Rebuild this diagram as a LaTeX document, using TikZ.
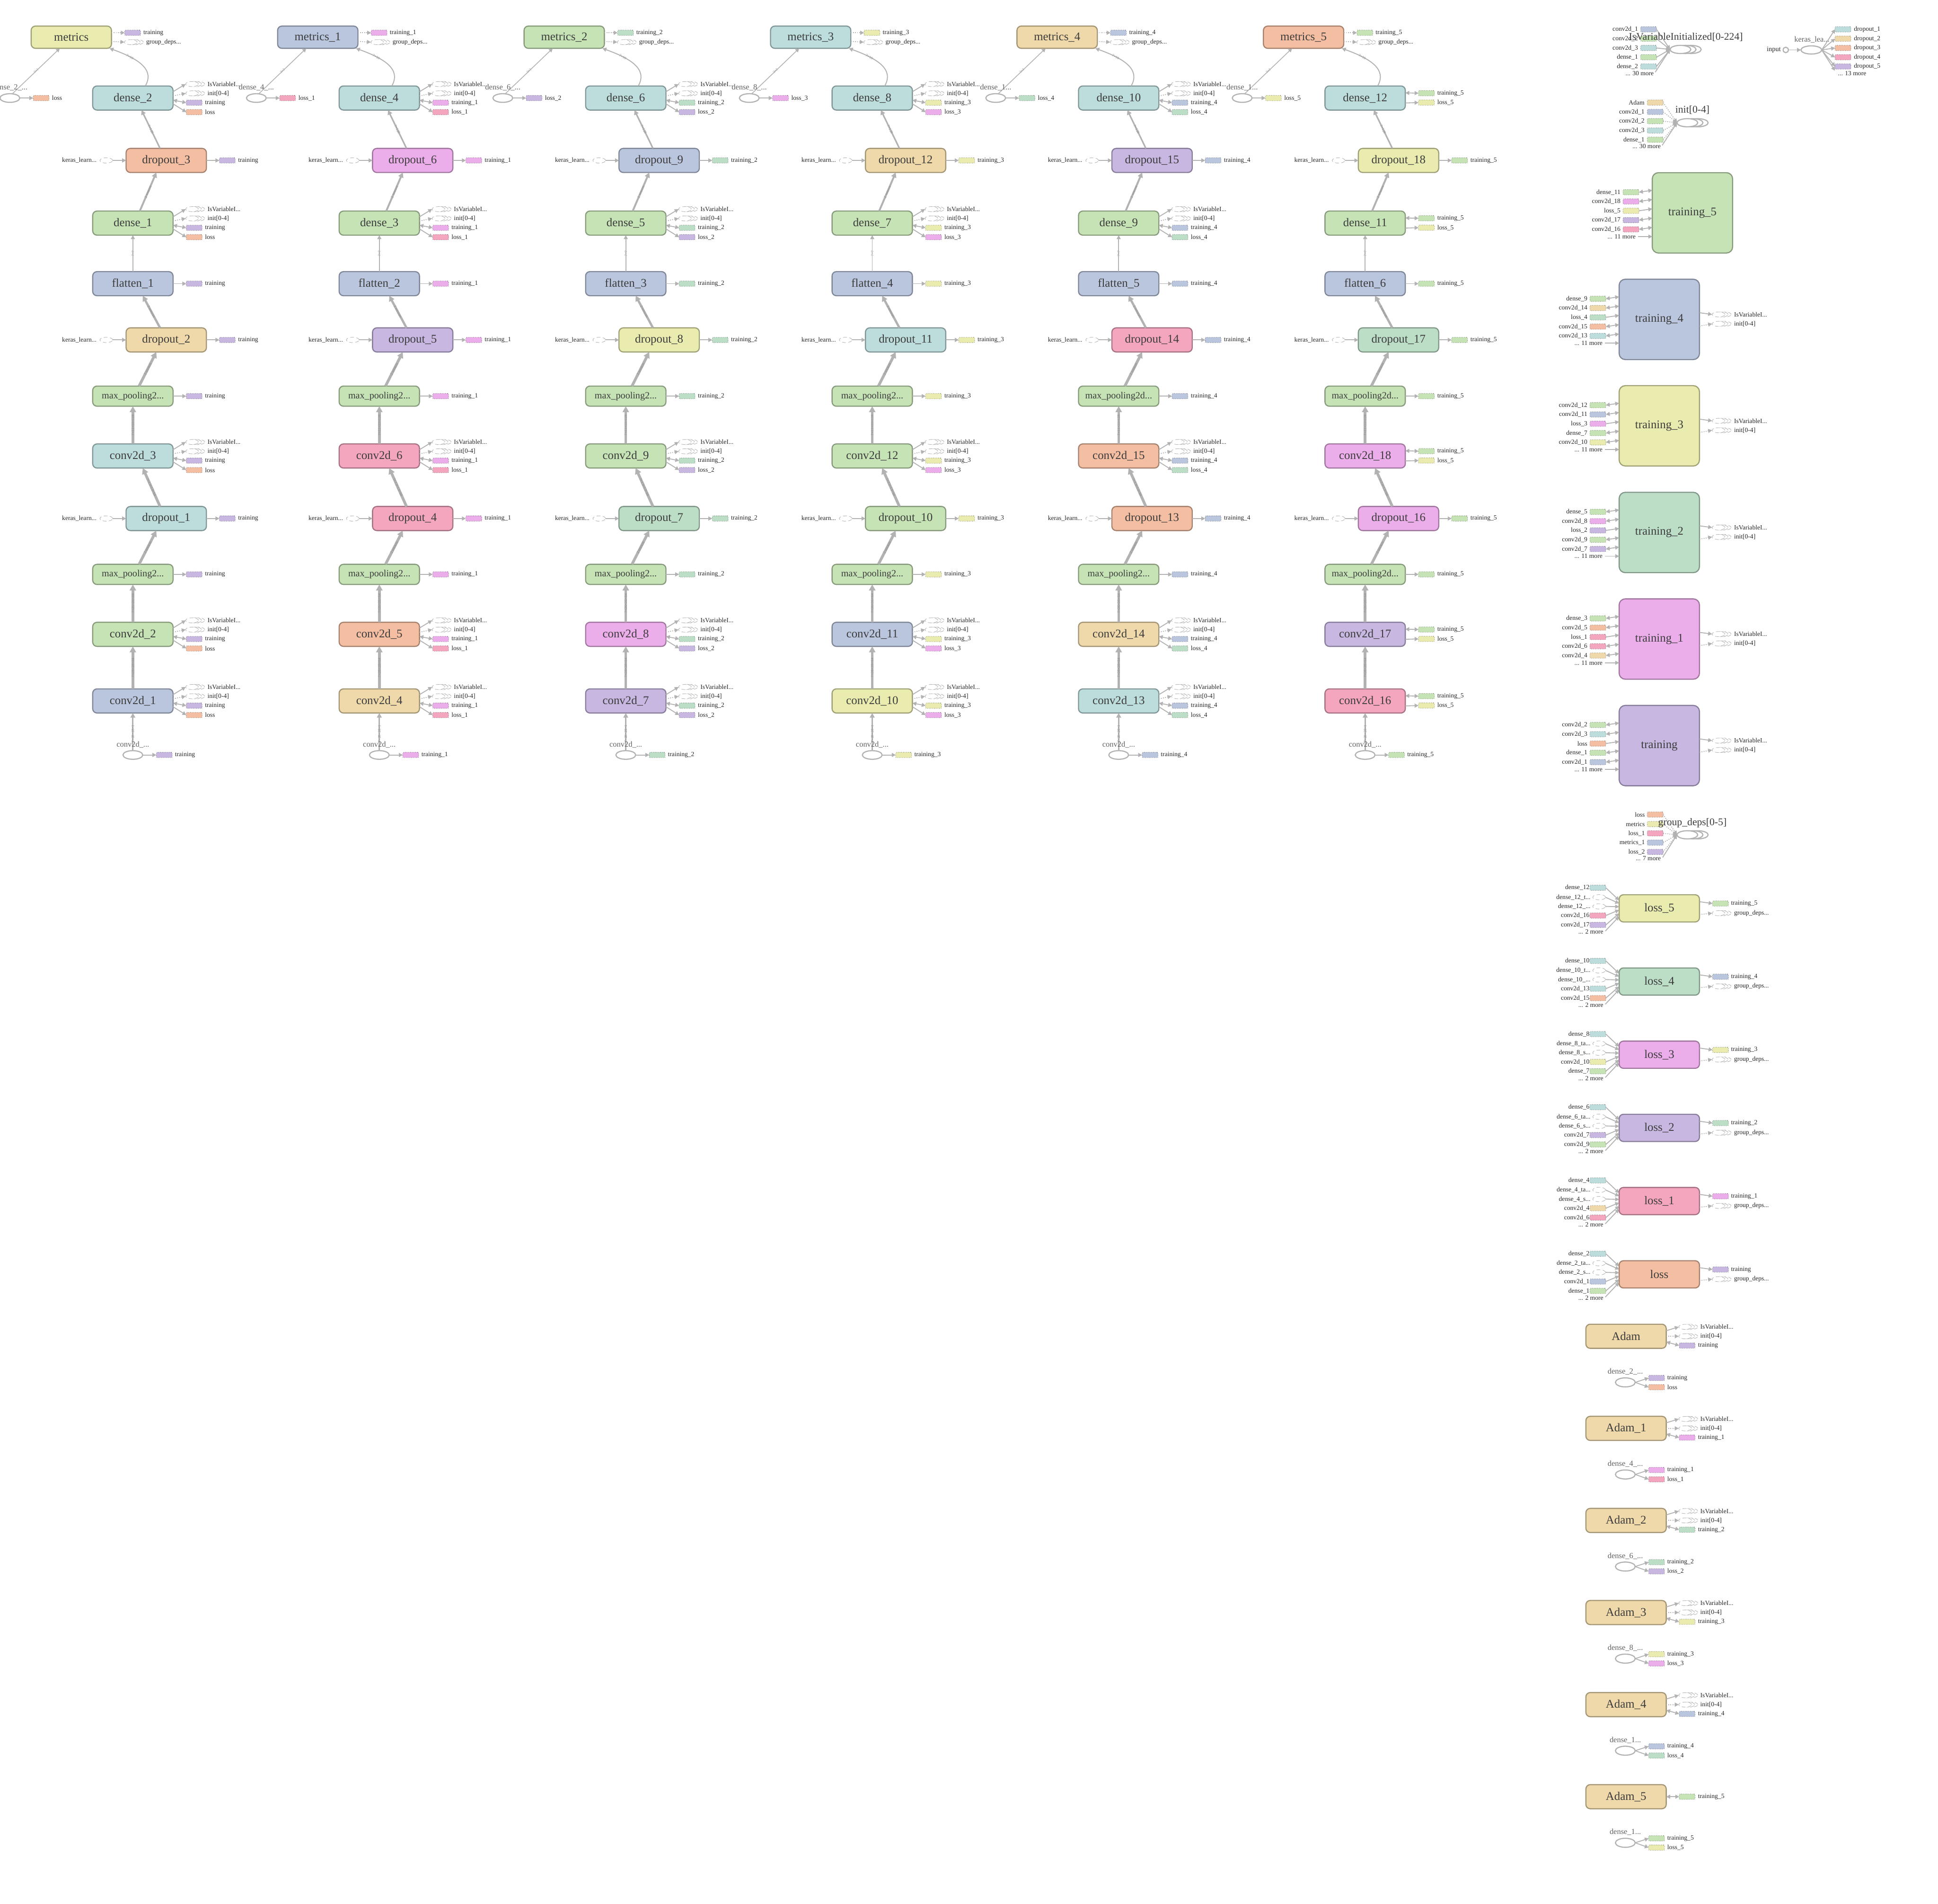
\documentclass[tikz,border=0pt]{standalone}
\usepackage{fontspec}
\setmainfont{Liberation Serif}
\usetikzlibrary{arrows.meta,shapes.geometric,calc}
\definecolor{cyel}{HTML}{EAEBAE}
\definecolor{cteal}{HTML}{BDDCDC}
\definecolor{csal}{HTML}{F4BEA2}
\definecolor{cgrn}{HTML}{C6E3B6}
\definecolor{cblu}{HTML}{BAC5DE}
\definecolor{ctan}{HTML}{EFD9AA}
\definecolor{cmag}{HTML}{EBAEEA}
\definecolor{cpnk}{HTML}{F4A6BF}
\definecolor{cpur}{HTML}{C7B7E1}
\definecolor{cmnt}{HTML}{BCDEC7}
\definecolor{edgec}{HTML}{B2B2B2}
\definecolor{txtc}{HTML}{3C3C3C}
\tikzset{
  every node/.style={inner sep=0pt, outer sep=0pt},
  box/.style={draw=#1!68!black, fill=#1, rounded corners=3.5pt, line width=0.9pt, minimum width=65pt, minimum height=19.5pt, text=txtc, font=\fontsize{9.5}{10}\selectfont},
  mpbox/.style={box=cgrn, minimum height=16.3pt, font=\fontsize{7.7}{8}\selectfont},
  chip/.style={draw=#1!55!black, fill=#1, densely dotted, rounded corners=0.8pt, minimum width=12.8pt, minimum height=4.3pt, line width=0.4pt},
  lbl/.style={font=\fontsize{5.2}{6}\selectfont, text=black!85},
  ellbl/.style={font=\fontsize{6.3}{7}\selectfont, text=black!62},
  ttl/.style={font=\fontsize{8.3}{9}\selectfont, text=txtc},
  elab/.style={font=\fontsize{3}{3}\selectfont, text=black!45, sloped},
  solell/.style={ellipse, draw=edgec, line width=0.9pt, fill=white, minimum width=16pt, minimum height=7pt},
  dell/.style={ellipse, draw=black!30, densely dashed, line width=0.35pt, fill=white, minimum width=10.3pt, minimum height=4.3pt},
  smallser/.style={dell, minimum width=10.4pt, minimum height=4.1pt},
  bigser/.style={ellipse, draw=edgec, line width=0.9pt, fill=white, minimum width=16.8pt, minimum height=6.6pt},
  ed/.style={draw=edgec, line width=0.7pt, -{Triangle[length=2.4pt 1.1, width=2.4pt 1.2]}},
  edd/.style={ed, densely dotted},
  edb/.style={draw=edgec, line width=0.7pt, {Triangle[length=2.4pt 1.1, width=2.4pt 1.2]}-{Triangle[length=2.4pt 1.1, width=2.4pt 1.2]}},
  lwA/.style={line width=2.2pt},
}
% series icon (stacked ellipses), #2 = centre of whole icon
\newcommand{\sericon}[4]{%
  \node[#4] at ({#2+2.4},{#3}) {};
  \node[#4] at ({#2-0.1},{#3}) {};
  \node[#4] (#1) at ({#2-2.6},{#3}) {};}
\newcommand{\bigsericon}[3]{%
  \node[bigser] at ({#2+8.4},{#3}) {};
  \node[bigser] at ({#2+4.2},{#3}) {};
  \node[bigser] (#1) at ({#2},{#3}) {};}
\newcommand{\fourout}[7]{%
  \sericon{#1iv}{#2+50.5}{#3-11.3}{smallser}
  \node[lbl,anchor=west] at ({#2+60.4},{#3-11.3}) {IsVariableI...};
  \sericon{#1in}{#2+50.5}{#3-3.8}{smallser}
  \node[lbl,anchor=west] at ({#2+60.4},{#3-3.8}) {init[0-4]};
  \node[chip=#4] (#1tr) at ({#2+49.6},{#3+3.8}) {};
  \node[lbl,anchor=west] at ({#2+58.4},{#3+3.8}) {#5};
  \node[chip=#6] (#1ls) at ({#2+49.6},{#3+11.4}) {};
  \node[lbl,anchor=west] at ({#2+58.4},{#3+11.4}) {#7};
  \draw[ed] ($(#1.east)+(0,-5.1)$) -- (#1iv.west);
  \draw[edd] ($(#1.east)+(0,-1.7)$) -- (#1in.west);
  \draw[edb] ($(#1.east)+(0,1.7)$) -- (#1tr.west);
  \draw[ed] ($(#1.east)+(0,4.7)$) -- (#1ls.west);}
\newcommand{\twoout}[7]{%
  \node[chip=#4] (#1tr) at ({#2+49.6},{#3-3.9}) {};
  \node[lbl,anchor=west] at ({#2+58.4},{#3-3.9}) {#5};
  \node[chip=#6] (#1ls) at ({#2+49.6},{#3+3.7}) {};
  \node[lbl,anchor=west] at ({#2+58.4},{#3+3.7}) {#7};
  \draw[edb] ($(#1.east)+(0,-4.2)$) -- (#1tr.west);
  \draw[ed] ($(#1.east)+(0,4)$) -- (#1ls.west);}
\newcommand{\oneout}[5]{%
  \node[chip=#4] (#1tr) at ({#2+49.6},{#3}) {};
  \node[lbl,anchor=west] at ({#2+58.4},{#3}) {#5};
  \draw[ed] (#1.east) -- (#1tr.west);}
\newcommand{\dropo}[5]{%
  \node[dell] (#1k) at ({#2-48.5},{#3}) {};
  \node[lbl,anchor=east] at ({#2-56.4},{#3}) {keras\_learn...};
  \draw[ed] (#1k.east) -- (#1.west);
  \node[chip=#4] (#1tr) at ({#2+49.4},{#3}) {};
  \node[lbl,anchor=west] at ({#2+58.2},{#3}) {#5};
  \draw[ed] (#1.east) -- (#1tr.west);}
\newcommand{\drawcol}[1]{%
  \pgfmathsetmacro{\cXD}{\cX+27}%
  \pgfmathsetmacro{\cXM}{\cX-49.8}%
  \pgfmathsetmacro{\cXE}{\cX-99.5}%
  \node[box=\cMetc, minimum height=18pt] (m#1) at (\cXM,30.1) {\cMet};
  \node[box=\cDAc] (dA#1) at (\cX,79.3) {\cDA};
  \node[box=\cDOAc] (doA#1) at (\cXD,129.8) {\cDOA};
  \node[box=\cDBc] (dB#1) at (\cX,180.5) {\cDB};
  \node[box=cblu] (fl#1) at (\cX,229.5) {flatten\_#1};
  \node[box=\cDOBc] (doB#1) at (\cXD,275) {\cDOB};
  \node[mpbox] (mpA#1) at (\cX,320.5) {\cMPA};
  \node[box=\cCAc] (cvA#1) at (\cX,368.9) {\cCA};
  \node[box=\cDOCc] (doC#1) at (\cXD,419.5) {\cDOC};
  \node[mpbox] (mpB#1) at (\cX,464.7) {\cMPB};
  \node[box=\cCBc] (cvB#1) at (\cX,513.2) {\cCB};
  \node[box=\cCCc] (cvC#1) at (\cX,567.1) {\cCC};
  % input ellipse
  \node[solell] (in#1) at (\cX,610.8) {};
  \node[chip=\cTRc] (in#1tr) at ({\cX+25.4},610.8) {};
  \node[lbl,anchor=west] at ({\cX+34.1},610.8) {\cTR};
  \draw[ed] (in#1.east) -- (in#1tr.west);
  % top-left ellipse
  \node[solell] (e#1) at (\cXE,79.3) {};
  \node[chip=\cLSc] (e#1ls) at ({\cXE+25.3},79.3) {};
  \node[lbl,anchor=west] at ({\cXE+34.1},79.3) {\cLS};
  \draw[ed] (e#1.east) -- (e#1ls.west);
  % metrics outputs
  \node[chip=\cTRc] (m#1tr) at ({\cXM+49.6},26.5) {};
  \node[lbl,anchor=west] at ({\cXM+58.3},26.5) {\cTR};
  \sericon{m#1gd}{\cXM+50.7}{34.1}{smallser}
  \node[lbl,anchor=west] at ({\cXM+60.6},34.1) {group\_deps...};
  \draw[edd] ($(m#1.east)+(0,-3.6)$) -- (m#1tr.west);
  \draw[edd] ($(m#1.east)+(0,3.4)$) -- (m#1gd.west);
  % side outputs
  \ifnum#1<6
    \fourout{dA#1}{\cX}{79.3}{\cTRc}{\cTR}{\cLSc}{\cLS}
    \fourout{dB#1}{\cX}{180.5}{\cTRc}{\cTR}{\cLSc}{\cLS}
    \fourout{cvA#1}{\cX}{368.9}{\cTRc}{\cTR}{\cLSc}{\cLS}
    \fourout{cvB#1}{\cX}{513.2}{\cTRc}{\cTR}{\cLSc}{\cLS}
    \fourout{cvC#1}{\cX}{567.1}{\cTRc}{\cTR}{\cLSc}{\cLS}
  \else
    \twoout{dA#1}{\cX}{79.3}{\cTRc}{\cTR}{\cLSc}{\cLS}
    \twoout{dB#1}{\cX}{180.5}{\cTRc}{\cTR}{\cLSc}{\cLS}
    \twoout{cvA#1}{\cX}{368.9}{\cTRc}{\cTR}{\cLSc}{\cLS}
    \twoout{cvB#1}{\cX}{513.2}{\cTRc}{\cTR}{\cLSc}{\cLS}
    \twoout{cvC#1}{\cX}{567.1}{\cTRc}{\cTR}{\cLSc}{\cLS}
  \fi
  \dropo{doA#1}{\cXD}{129.8}{\cTRc}{\cTR}
  \dropo{doB#1}{\cXD}{275}{\cTRc}{\cTR}
  \dropo{doC#1}{\cXD}{419.5}{\cTRc}{\cTR}
  \oneout{fl#1}{\cX}{229.5}{\cTRc}{\cTR}
  \oneout{mpA#1}{\cX}{320.5}{\cTRc}{\cTR}
  \oneout{mpB#1}{\cX}{464.7}{\cTRc}{\cTR}
  % chain edges
  \draw[ed, line width=1.2pt] (in#1.north) -- (cvC#1.south) node[elab,pos=0.45]{?×28×28×1};
  \draw[ed, lwA] (cvC#1.north) -- (cvB#1.south) node[elab,midway]{?×28×28×64};
  \draw[ed, lwA] (cvB#1.north) -- (mpB#1.south) node[elab,midway]{?×26×26×64};
  \draw[ed, lwA] ($(mpB#1.north)+(5,0)$) -- ($(doC#1.south)+(-8,0)$) node[elab,midway]{2 tensors};
  \draw[ed, lwA] ($(doC#1.north)+(-5,0)$) -- ($(cvA#1.south)+(8,0)$) node[elab,midway]{?×13×13×64};
  \draw[ed, lwA] (cvA#1.north) -- (mpA#1.south) node[elab,midway]{?×11×11×128};
  \draw[ed, lwA] ($(mpA#1.north)+(5,0)$) -- ($(doB#1.south)+(-8,0)$) node[elab,midway]{2 tensors};
  \draw[ed, line width=1.8pt] ($(doB#1.north)+(-5,0)$) -- ($(fl#1.south)+(8,0)$) node[elab,midway]{2 tensors};
  \draw[ed, line width=0.75pt] (fl#1.north) -- (dB#1.south) node[elab,midway]{?×?};
  \draw[ed, line width=1.5pt] ($(dB#1.north)+(5.6,0)$) -- ($(doA#1.south)+(-8,0)$) node[elab,midway]{2 tensors};
  \draw[ed, line width=1.2pt] ($(doA#1.north)+(-5,0)$) -- ($(dA#1.south)+(7,0)$) node[elab,midway]{?×128};
  \draw[ed, line width=0.75pt] ($(dA#1.north)+(10.1,0)$) .. controls +(8,-14) and +(22,8) .. ($(m#1.south east)+(-1.6,0)$) node[elab,pos=0.72]{?×10};
  \draw[ed, line width=0.6pt] (e#1.60) -- ($(m#1.south)+(-9.3,0)$) node[elab,midway]{?×?};
  % ellipse labels
  \node[ellbl] at (\cXE,70.9) {\cEL};
  \node[ellbl] at (\cX,602.6) {conv2d\_...};
}
% right panel helpers
\newcommand{\trbox}[5]{\node[box=#4, minimum height=65pt, rounded corners=5pt] (#1) at (#2,{#3+32.5}) {#5};}
\newcommand{\trin}[7]{%
  \node[chip=#6] (#1i#4) at ({#2-49.7},{#3+15.8+7.52*#4}) {};
  \node[lbl,anchor=east] at ({#2-58.2},{#3+15.8+7.52*#4}) {#5};
  \draw[#7] (#1i#4.east) -- ($(#1.west|-#1i#4)+(0,-1.6)$);}
\newcommand{\trmore}[3]{%
  \node[lbl,anchor=east] (#1m) at ({#2-46},{#3+51.7}) {... 11 more};
  \draw[ed] ($(#1m.east)+(2,0)$) -- (#1.west|-#1m);}
\newcommand{\trout}[3]{%
  \sericon{#1iv}{#2+50.5}{#3+28.5}{smallser}
  \node[lbl,anchor=west] at ({#2+60.5},{#3+28.5}) {IsVariableI...};
  \sericon{#1in}{#2+50.5}{#3+36.1}{smallser}
  \node[lbl,anchor=west] at ({#2+60.5},{#3+36.1}) {init[0-4]};
  \draw[ed] ($(#1.east|-#1iv)+(0,-1.4)$) -- (#1iv.west);
  \draw[edd] ($(#1.east|-#1in)+(0,1.8)$) -- (#1in.west);}
\newcommand{\lossnode}[4]{\node[box=#3, minimum height=22pt] (#1) at (1342.5,#2) {#4};}
\newcommand{\lchip}[7]{%
  \node[chip=#5] (#1i#3) at (1292.8,{#2+#6}) {};
  \node[lbl,anchor=east] at (1286,{#2+#6}) {#4};
  \draw[ed] (#1i#3.east) -- ($(#1.west)+(0,#7)$);}
\newcommand{\lell}[6]{%
  \node[dell] (#1i#3) at (1293.8,{#2+#5}) {};
  \node[lbl,anchor=east] at (1286.8,{#2+#5}) {#4};
  \draw[ed] (#1i#3.east) -- ($(#1.west)+(0,#6)$);}
\newcommand{\lmore}[2]{%
  \node[lbl,anchor=east] (#1m) at (1297.2,{#2+19}) {... 2 more};
  \draw[ed] ($(#1m.east)+(1.6,-0.6)$) -- ($(#1.west)+(0,6.5)$);}
\newcommand{\lout}[4]{%
  \node[chip=#3] (#1tr) at (1392,{#2-3.9}) {};
  \node[lbl,anchor=west] at (1400.5,{#2-3.9}) {#4};
  \sericon{#1gd}{1393}{#2+3.9}{smallser}
  \node[lbl,anchor=west] at (1403,{#2+3.9}) {group\_deps...};
  \draw[ed] ($(#1.east)+(0,-5.4)$) -- (#1tr.west);
  \draw[edd] ($(#1.east)+(0,5)$) -- (#1gd.west);}
\newcommand{\adam}[5]{%
  \node[box=ctan] (#1) at (1315.6,#2) {#3};
  \sericon{#1iv}{1366}{#2-7.6}{smallser}
  \node[lbl,anchor=west] at (1375.7,{#2-7.6}) {IsVariableI...};
  \sericon{#1in}{1366}{#2}{smallser}
  \node[lbl,anchor=west] at (1375.7,{#2}) {init[0-4]};
  \node[chip=#4] (#1tr) at (1365,{#2+7.5}) {};
  \node[lbl,anchor=west] at (1373.8,{#2+7.5}) {#5};
  \draw[ed] ($(#1.east)+(0,-4.5)$) -- (#1iv.west);
  \draw[edd] (#1.east) -- (#1in.west);
  \draw[edb] ($(#1.east)+(0,4.5)$) -- (#1tr.west);}
\newcommand{\adamell}[7]{%
  \node[solell, minimum height=7.3pt] (#1) at (1315,#2) {};
  \node[ellbl] at (1315,{#2-8.6}) {#3};
  \node[chip=#4] (#1tr) at (1340.3,{#2-3.6}) {};
  \node[lbl,anchor=west] at (1349,{#2-3.6}) {#5};
  \node[chip=#6] (#1ls) at (1340.3,{#2+3.9}) {};
  \node[lbl,anchor=west] at (1349,{#2+3.9}) {#7};
  \draw[ed] (#1.east) -- (#1tr.west);
  \draw[ed] (#1.east) -- (#1ls.west);}
\begin{document}
\begin{tikzpicture}[x=1pt,y=-1pt]
\useasboundingbox (0,0) rectangle (1568,1540.3);
\fill[white] (0,0) rectangle (1568,1540.3);
% ---------------- column 1
\def\cX{107.5}\def\cMet{metrics}\def\cMetc{cyel}
\def\cDA{dense\_2}\def\cDAc{cteal}\def\cDOA{dropout\_3}\def\cDOAc{csal}
\def\cDB{dense\_1}\def\cDBc{cgrn}\def\cDOB{dropout\_2}\def\cDOBc{ctan}
\def\cMPA{max\_pooling2...}\def\cCA{conv2d\_3}\def\cCAc{cteal}
\def\cDOC{dropout\_1}\def\cDOCc{cteal}\def\cMPB{max\_pooling2...}
\def\cCB{conv2d\_2}\def\cCBc{cgrn}\def\cCC{conv2d\_1}\def\cCCc{cblu}
\def\cTR{training}\def\cTRc{cpur}\def\cLS{loss}\def\cLSc{csal}\def\cEL{dense\_2\_...}
\drawcol{1}
% ---------------- column 2
\def\cX{306.9}\def\cMet{metrics\_1}\def\cMetc{cblu}
\def\cDA{dense\_4}\def\cDAc{cteal}\def\cDOA{dropout\_6}\def\cDOAc{cmag}
\def\cDB{dense\_3}\def\cDBc{cgrn}\def\cDOB{dropout\_5}\def\cDOBc{cpur}
\def\cMPA{max\_pooling2...}\def\cCA{conv2d\_6}\def\cCAc{cpnk}
\def\cDOC{dropout\_4}\def\cDOCc{cpnk}\def\cMPB{max\_pooling2...}
\def\cCB{conv2d\_5}\def\cCBc{csal}\def\cCC{conv2d\_4}\def\cCCc{ctan}
\def\cTR{training\_1}\def\cTRc{cmag}\def\cLS{loss\_1}\def\cLSc{cpnk}\def\cEL{dense\_4\_...}
\drawcol{2}
% ---------------- column 3
\def\cX{506.3}\def\cMet{metrics\_2}\def\cMetc{cgrn}
\def\cDA{dense\_6}\def\cDAc{cteal}\def\cDOA{dropout\_9}\def\cDOAc{cblu}
\def\cDB{dense\_5}\def\cDBc{cgrn}\def\cDOB{dropout\_8}\def\cDOBc{cyel}
\def\cMPA{max\_pooling2...}\def\cCA{conv2d\_9}\def\cCAc{cgrn}
\def\cDOC{dropout\_7}\def\cDOCc{cmnt}\def\cMPB{max\_pooling2...}
\def\cCB{conv2d\_8}\def\cCBc{cmag}\def\cCC{conv2d\_7}\def\cCCc{cpur}
\def\cTR{training\_2}\def\cTRc{cmnt}\def\cLS{loss\_2}\def\cLSc{cpur}\def\cEL{dense\_6\_...}
\drawcol{3}
% ---------------- column 4
\def\cX{705.7}\def\cMet{metrics\_3}\def\cMetc{cteal}
\def\cDA{dense\_8}\def\cDAc{cteal}\def\cDOA{dropout\_12}\def\cDOAc{ctan}
\def\cDB{dense\_7}\def\cDBc{cgrn}\def\cDOB{dropout\_11}\def\cDOBc{cteal}
\def\cMPA{max\_pooling2...}\def\cCA{conv2d\_12}\def\cCAc{cgrn}
\def\cDOC{dropout\_10}\def\cDOCc{cgrn}\def\cMPB{max\_pooling2...}
\def\cCB{conv2d\_11}\def\cCBc{cblu}\def\cCC{conv2d\_10}\def\cCCc{cyel}
\def\cTR{training\_3}\def\cTRc{cyel}\def\cLS{loss\_3}\def\cLSc{cmag}\def\cEL{dense\_8\_...}
\drawcol{4}
% ---------------- column 5
\def\cX{905.1}\def\cMet{metrics\_4}\def\cMetc{ctan}
\def\cDA{dense\_10}\def\cDAc{cteal}\def\cDOA{dropout\_15}\def\cDOAc{cpur}
\def\cDB{dense\_9}\def\cDBc{cgrn}\def\cDOB{dropout\_14}\def\cDOBc{cpnk}
\def\cMPA{max\_pooling2d...}\def\cCA{conv2d\_15}\def\cCAc{csal}
\def\cDOC{dropout\_13}\def\cDOCc{csal}\def\cMPB{max\_pooling2...}
\def\cCB{conv2d\_14}\def\cCBc{ctan}\def\cCC{conv2d\_13}\def\cCCc{cteal}
\def\cTR{training\_4}\def\cTRc{cblu}\def\cLS{loss\_4}\def\cLSc{cmnt}\def\cEL{dense\_1...}
\drawcol{5}
% ---------------- column 6
\def\cX{1104.5}\def\cMet{metrics\_5}\def\cMetc{csal}
\def\cDA{dense\_12}\def\cDAc{cteal}\def\cDOA{dropout\_18}\def\cDOAc{cyel}
\def\cDB{dense\_11}\def\cDBc{cgrn}\def\cDOB{dropout\_17}\def\cDOBc{cmnt}
\def\cMPA{max\_pooling2d...}\def\cCA{conv2d\_18}\def\cCAc{cmag}
\def\cDOC{dropout\_16}\def\cDOCc{cmag}\def\cMPB{max\_pooling2d...}
\def\cCB{conv2d\_17}\def\cCBc{cpur}\def\cCC{conv2d\_16}\def\cCCc{cpnk}
\def\cTR{training\_5}\def\cTRc{cgrn}\def\cLS{loss\_5}\def\cLSc{cyel}\def\cEL{dense\_1...}
\drawcol{6}
% ---------------- IsVariableInitialized group
\bigsericon{isv}{1359.6}{40}
\node[chip=cblu] (isv1) at (1333.8,23.7) {}; \node[lbl,anchor=east] at (1325.2,23.7) {conv2d\_1};
\node[chip=cgrn] (isv2) at (1333.8,31.3) {}; \node[lbl,anchor=east] at (1325.2,31.3) {conv2d\_2};
\node[chip=cteal] (isv3) at (1333.8,38.8) {}; \node[lbl,anchor=east] at (1325.2,38.8) {conv2d\_3};
\node[chip=cgrn] (isv4) at (1333.8,46.3) {}; \node[lbl,anchor=east] at (1325.2,46.3) {dense\_1};
\node[chip=cteal] (isv5) at (1333.8,53.8) {}; \node[lbl,anchor=east] at (1325.2,53.8) {dense\_2};
\node[lbl,anchor=east] (isvm) at (1338,59.2) {... 30 more};
\foreach \i in {1,...,5} {\draw[ed] (isv\i.east) -- (isv.west);}
\draw[ed] ($(isvm.east)+(1.2,-0.8)$) -- (isv.west);
\node[ttl] at (1364,30) {IsVariableInitialized[0-224]};
% ---------------- keras learning phase group
\node[solell, minimum width=4.2pt, minimum height=4.4pt] (inp) at (1444.8,40.4) {};
\node[lbl,anchor=east,font=\fontsize{5.5}{6}\selectfont] at (1440.8,40.4) {input};
\node[solell, minimum width=16.8pt, minimum height=6.6pt] (ker) at (1465.5,40.4) {};
\node[ellbl] at (1466,32) {keras\_lea...};
\draw[ed] (inp.east) -- (ker.west);
\node[chip=cteal] (kd1) at (1491.1,23.7) {}; \node[lbl,anchor=west] at (1500,23.7) {dropout\_1};
\node[chip=ctan] (kd2) at (1491.1,31.3) {}; \node[lbl,anchor=west] at (1500,31.3) {dropout\_2};
\node[chip=csal] (kd3) at (1491.1,38.8) {}; \node[lbl,anchor=west] at (1500,38.8) {dropout\_3};
\node[chip=cpnk] (kd4) at (1491.1,46.3) {}; \node[lbl,anchor=west] at (1500,46.3) {dropout\_4};
\node[chip=cpur] (kd5) at (1491.1,53.8) {}; \node[lbl,anchor=west] at (1500,53.8) {dropout\_5};
\node[lbl,anchor=west] (kdm) at (1487.1,59.2) {... 13 more};
\foreach \i in {1,...,5} {\draw[ed] (ker.east) -- (kd\i.west);}
\draw[ed] (ker.east) -- ($(kdm.west)+(-2.5,-2)$);
% ---------------- init group
\bigsericon{ini}{1365.2}{99.3}
\node[chip=ctan] (ini1) at (1339.2,83) {}; \node[lbl,anchor=east] at (1330.5,83) {Adam};
\node[chip=cblu] (ini2) at (1339.2,90.5) {}; \node[lbl,anchor=east] at (1330.5,90.5) {conv2d\_1};
\node[chip=cgrn] (ini3) at (1339.2,98) {}; \node[lbl,anchor=east] at (1330.5,98) {conv2d\_2};
\node[chip=cteal] (ini4) at (1339.2,105.6) {}; \node[lbl,anchor=east] at (1330.5,105.6) {conv2d\_3};
\node[chip=cgrn] (ini5) at (1339.2,113) {}; \node[lbl,anchor=east] at (1330.5,113) {dense\_1};
\node[lbl,anchor=east] (inim) at (1343.6,118.4) {... 30 more};
\foreach \i in {1,...,5} {\draw[edd] (ini\i.east) -- (ini.west);}
\draw[ed] ($(inim.east)+(1.2,-0.8)$) -- (ini.west);
\node[ttl] at (1369.3,89.1) {init[0-4]};
% ---------------- training boxes
\trbox{t5}{1369.3}{139.7}{cgrn}{training\_5}
\trin{t5}{1369.3}{139.7}{0}{dense\_11}{cgrn}{edb}
\trin{t5}{1369.3}{139.7}{1}{conv2d\_18}{cmag}{edb}
\trin{t5}{1369.3}{139.7}{2}{loss\_5}{cyel}{ed}
\trin{t5}{1369.3}{139.7}{3}{conv2d\_17}{cpur}{edb}
\trin{t5}{1369.3}{139.7}{4}{conv2d\_16}{cpnk}{edb}
\trmore{t5}{1369.3}{139.7}
\trbox{t4}{1342.5}{225.9}{cblu}{training\_4}
\trin{t4}{1342.5}{225.9}{0}{dense\_9}{cgrn}{edb}
\trin{t4}{1342.5}{225.9}{1}{conv2d\_14}{ctan}{edb}
\trin{t4}{1342.5}{225.9}{2}{loss\_4}{cmnt}{ed}
\trin{t4}{1342.5}{225.9}{3}{conv2d\_15}{csal}{edb}
\trin{t4}{1342.5}{225.9}{4}{conv2d\_13}{cteal}{edb}
\trmore{t4}{1342.5}{225.9}
\trout{t4}{1342.5}{225.9}
\trbox{t3}{1342.5}{312}{cyel}{training\_3}
\trin{t3}{1342.5}{312}{0}{conv2d\_12}{cgrn}{edb}
\trin{t3}{1342.5}{312}{1}{conv2d\_11}{cblu}{edb}
\trin{t3}{1342.5}{312}{2}{loss\_3}{cmag}{ed}
\trin{t3}{1342.5}{312}{3}{dense\_7}{cgrn}{edb}
\trin{t3}{1342.5}{312}{4}{conv2d\_10}{cyel}{edb}
\trmore{t3}{1342.5}{312}
\trout{t3}{1342.5}{312}
\trbox{t2}{1342.5}{398.3}{cmnt}{training\_2}
\trin{t2}{1342.5}{398.3}{0}{dense\_5}{cgrn}{edb}
\trin{t2}{1342.5}{398.3}{1}{conv2d\_8}{cmag}{edb}
\trin{t2}{1342.5}{398.3}{2}{loss\_2}{cpur}{ed}
\trin{t2}{1342.5}{398.3}{3}{conv2d\_9}{cgrn}{edb}
\trin{t2}{1342.5}{398.3}{4}{conv2d\_7}{cpur}{edb}
\trmore{t2}{1342.5}{398.3}
\trout{t2}{1342.5}{398.3}
\trbox{t1}{1342.5}{484.5}{cmag}{training\_1}
\trin{t1}{1342.5}{484.5}{0}{dense\_3}{cgrn}{edb}
\trin{t1}{1342.5}{484.5}{1}{conv2d\_5}{csal}{edb}
\trin{t1}{1342.5}{484.5}{2}{loss\_1}{cpnk}{ed}
\trin{t1}{1342.5}{484.5}{3}{conv2d\_6}{cpnk}{edb}
\trin{t1}{1342.5}{484.5}{4}{conv2d\_4}{ctan}{edb}
\trmore{t1}{1342.5}{484.5}
\trout{t1}{1342.5}{484.5}
\trbox{t0}{1342.5}{570.7}{cpur}{training}
\trin{t0}{1342.5}{570.7}{0}{conv2d\_2}{cgrn}{edb}
\trin{t0}{1342.5}{570.7}{1}{conv2d\_3}{cteal}{edb}
\trin{t0}{1342.5}{570.7}{2}{loss}{csal}{ed}
\trin{t0}{1342.5}{570.7}{3}{dense\_1}{cgrn}{edb}
\trin{t0}{1342.5}{570.7}{4}{conv2d\_1}{cblu}{edb}
\trmore{t0}{1342.5}{570.7}
\trout{t0}{1342.5}{570.7}
% ---------------- group_deps
\bigsericon{gd}{1365.2}{675.4}
\node[chip=csal] (gd1) at (1339.2,659) {}; \node[lbl,anchor=east] at (1330.8,659) {loss};
\node[chip=cyel] (gd2) at (1339.2,666.7) {}; \node[lbl,anchor=east] at (1330.8,666.7) {metrics};
\node[chip=cpnk] (gd3) at (1339.2,674.2) {}; \node[lbl,anchor=east] at (1330.8,674.2) {loss\_1};
\node[chip=cblu] (gd4) at (1339.2,681.7) {}; \node[lbl,anchor=east] at (1330.8,681.7) {metrics\_1};
\node[chip=cpur] (gd5) at (1339.2,689.2) {}; \node[lbl,anchor=east] at (1330.8,689.2) {loss\_2};
\node[lbl,anchor=east] (gdm) at (1343.7,694.5) {... 7 more};
\foreach \i in {1,...,5} {\draw[edd] (gd\i.east) -- (gd.west);}
\draw[ed] ($(gdm.east)+(1.5,-0.8)$) -- (gd.west);
\node[ttl] at (1369.3,665.8) {group\_deps[0-5]};
% ---------------- loss boxes
\lossnode{l5}{734.9}{cyel}{loss\_5}
\lchip{l5}{734.9}{0}{dense\_12}{cteal}{-16.7}{-6.5}
\lell{l5}{734.9}{1}{dense\_12\_t...}{-9}{-4}
\lell{l5}{734.9}{2}{dense\_12\_...}{-1.6}{-1.3}
\lchip{l5}{734.9}{3}{conv2d\_16}{cpnk}{5.8}{1.3}
\lchip{l5}{734.9}{4}{conv2d\_17}{cpur}{13.4}{4}
\lmore{l5}{734.9}
\lout{l5}{734.9}{cgrn}{training\_5}
\lossnode{l4}{794.1}{cmnt}{loss\_4}
\lchip{l4}{794.1}{0}{dense\_10}{cteal}{-16.7}{-6.5}
\lell{l4}{794.1}{1}{dense\_10\_t...}{-9}{-4}
\lell{l4}{794.1}{2}{dense\_10\_...}{-1.6}{-1.3}
\lchip{l4}{794.1}{3}{conv2d\_13}{cteal}{5.8}{1.3}
\lchip{l4}{794.1}{4}{conv2d\_15}{csal}{13.4}{4}
\lmore{l4}{794.1}
\lout{l4}{794.1}{cblu}{training\_4}
\lossnode{l3}{853.3}{cmag}{loss\_3}
\lchip{l3}{853.3}{0}{dense\_8}{cteal}{-16.7}{-6.5}
\lell{l3}{853.3}{1}{dense\_8\_ta...}{-9}{-4}
\lell{l3}{853.3}{2}{dense\_8\_s...}{-1.6}{-1.3}
\lchip{l3}{853.3}{3}{conv2d\_10}{cyel}{5.8}{1.3}
\lchip{l3}{853.3}{4}{dense\_7}{cgrn}{13.4}{4}
\lmore{l3}{853.3}
\lout{l3}{853.3}{cyel}{training\_3}
\lossnode{l2}{912.5}{cpur}{loss\_2}
\lchip{l2}{912.5}{0}{dense\_6}{cteal}{-16.7}{-6.5}
\lell{l2}{912.5}{1}{dense\_6\_ta...}{-9}{-4}
\lell{l2}{912.5}{2}{dense\_6\_s...}{-1.6}{-1.3}
\lchip{l2}{912.5}{3}{conv2d\_7}{cpur}{5.8}{1.3}
\lchip{l2}{912.5}{4}{conv2d\_9}{cgrn}{13.4}{4}
\lmore{l2}{912.5}
\lout{l2}{912.5}{cmnt}{training\_2}
\lossnode{l1}{971.7}{cpnk}{loss\_1}
\lchip{l1}{971.7}{0}{dense\_4}{cteal}{-16.7}{-6.5}
\lell{l1}{971.7}{1}{dense\_4\_ta...}{-9}{-4}
\lell{l1}{971.7}{2}{dense\_4\_s...}{-1.6}{-1.3}
\lchip{l1}{971.7}{3}{conv2d\_4}{ctan}{5.8}{1.3}
\lchip{l1}{971.7}{4}{conv2d\_6}{cpnk}{13.4}{4}
\lmore{l1}{971.7}
\lout{l1}{971.7}{cmag}{training\_1}
\lossnode{l0}{1031}{csal}{loss}
\lchip{l0}{1031}{0}{dense\_2}{cteal}{-16.7}{-6.5}
\lell{l0}{1031}{1}{dense\_2\_ta...}{-9}{-4}
\lell{l0}{1031}{2}{dense\_2\_s...}{-1.6}{-1.3}
\lchip{l0}{1031}{3}{conv2d\_1}{cblu}{5.8}{1.3}
\lchip{l0}{1031}{4}{dense\_1}{cgrn}{13.4}{4}
\lmore{l0}{1031}
\lout{l0}{1031}{cpur}{training}
% ---------------- Adam blocks
\adam{a0}{1081.1}{Adam}{cpur}{training}
\adamell{ae0}{1118.4}{dense\_2\_...}{cpur}{training}{csal}{loss}
\adam{a1}{1155.6}{Adam\_1}{cmag}{training\_1}
\adamell{ae1}{1192.9}{dense\_4\_...}{cmag}{training\_1}{cpnk}{loss\_1}
\adam{a2}{1230.1}{Adam\_2}{cmnt}{training\_2}
\adamell{ae2}{1267.4}{dense\_6\_...}{cmnt}{training\_2}{cpur}{loss\_2}
\adam{a3}{1304.6}{Adam\_3}{cyel}{training\_3}
\adamell{ae3}{1341.9}{dense\_8\_...}{cyel}{training\_3}{cmag}{loss\_3}
\adam{a4}{1379.1}{Adam\_4}{cblu}{training\_4}
\adamell{ae4}{1416.4}{dense\_1...}{cblu}{training\_4}{cmnt}{loss\_4}
\node[box=ctan] (a5) at (1315.6,1453.6) {Adam\_5};
\node[chip=cgrn] (a5tr) at (1365,1453.6) {};
\node[lbl,anchor=west] at (1373.8,1453.6) {training\_5};
\draw[edb] (a5.east) -- (a5tr.west);
\adamell{ae5}{1490.9}{dense\_1...}{cgrn}{training\_5}{cyel}{loss\_5}
\end{tikzpicture}
\end{document}
